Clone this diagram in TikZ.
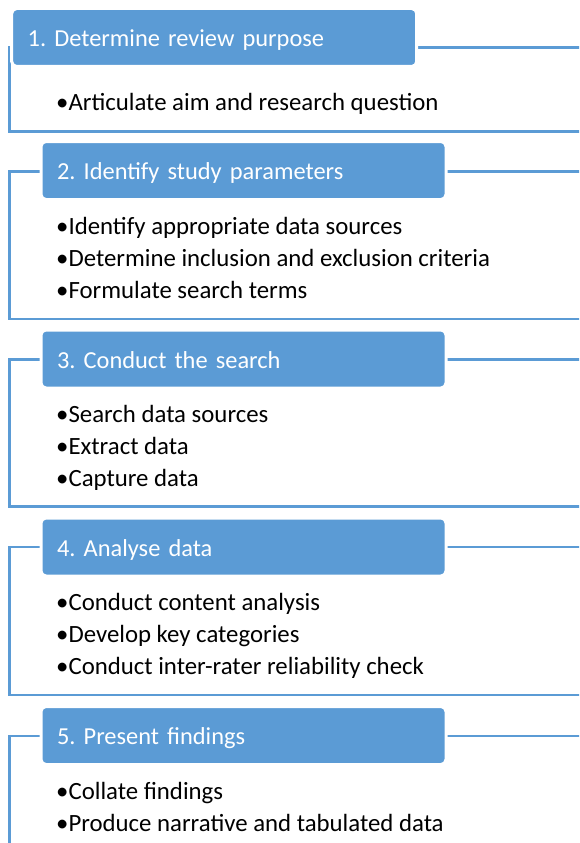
\documentclass[tikz,border=0pt]{standalone}
\usepackage{fontspec}
\setmainfont{Carlito}
\frenchspacing
\usetikzlibrary{positioning}
\definecolor{stageblue}{HTML}{5B9BD5}

\begin{document}
\begin{tikzpicture}[
			x=1pt, y=-1pt,
			every node/.style={font=\fontsize{24.8}{32}\selectfont},
			header/.style={rectangle, rounded corners=5pt, fill=stageblue, draw=white, line width=3pt,
				text=white, anchor=west, minimum height=58pt, inner xsep=16pt, text width=373pt, align=left,
				font=\fontsize{24.4}{30}\selectfont, text height=21pt, text depth=3pt},
			items/.style={anchor=base west, inner sep=0pt, align=left},
			frame/.style={draw=stageblue, line width=2.5pt}
		]
		\useasboundingbox (0,0) rectangle (579,843);
		\clip (0,0) rectangle (579,843);

		% frames behind the stage headers
		\draw[frame] (9.5,47.7) rectangle (600,131.6);
		\draw[frame] (9.5,171.5) rectangle (600,319);
		\draw[frame] (9.5,359.5) rectangle (600,506.7);
		\draw[frame] (9.5,547) rectangle (600,695);
		\draw[frame] (9.5,736) rectangle (600,880);

		% stage headers
		\node (hdr1) [header] at (10.2,37.5) {1. Determine review purpose};
		\node (hdr2) [header] at (39.5,170.5) {2. Identify study parameters};
		\node (hdr3) [header] at (39.5,359) {3. Conduct the search};
		\node (hdr4) [header] at (39.5,547) {4. Analyse data};
		\node (hdr5) [header] at (39.5,735.5) {5. Present findings};

		% bullet lists (base = last line)
		\node (list1) [items] at (56,110.7) {•Articulate aim and research question};
		\node (list2) [items] at (56,298.5) {•Identify appropriate data sources\\•Determine inclusion and exclusion criteria\\•Formulate search terms};
		\node (list3) [items] at (56,486.5) {•Search data sources\\•Extract data\\•Capture data};
		\node (list4) [items] at (56,674) {•Conduct content analysis\\•Develop key categories\\•Conduct inter-rater reliability check};
		\node (list5) [items] at (56,831) {•Collate findings\\•Produce narrative and tabulated data};
	\end{tikzpicture}
\end{document}
